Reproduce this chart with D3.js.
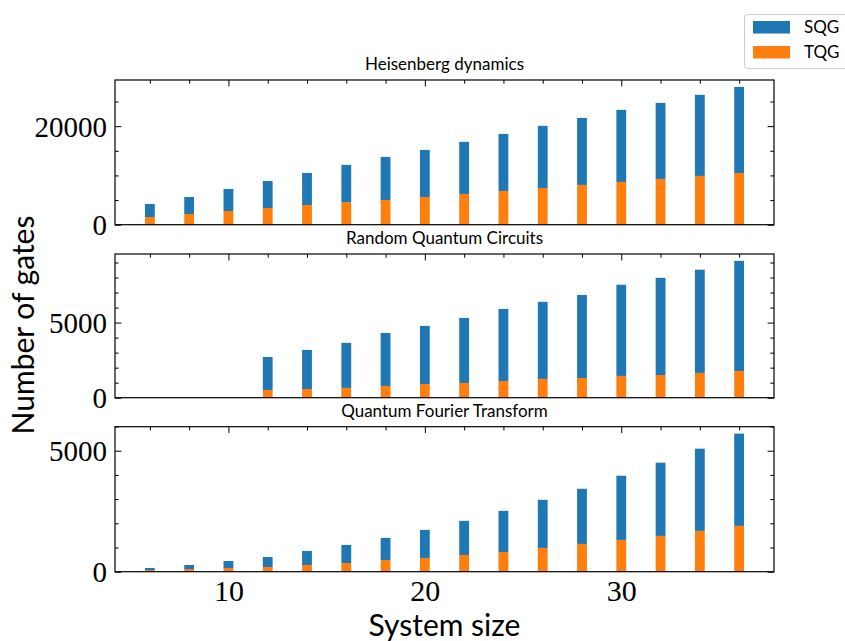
<!DOCTYPE html>
<html>
<head>
<meta charset="utf-8">
<script src="https://cdn.jsdelivr.net/npm/d3@7"></script>
<style>
  body { margin: 0; background: #fff; }
  svg { display: block; }
</style>
</head>
<body>
<svg id="chart" width="845" height="641"></svg>
<script>
// System sizes (number of qubits) shared by all three panels
const systemSizes = [6, 8, 10, 12, 14, 16, 18, 20, 22, 24, 26, 28, 30, 32, 34, 36];

// Heisenberg dynamics: single-qubit and two-qubit gate counts
const heisenbergSQG = [2640, 3450, 4470, 5490, 6500, 7580, 8740, 9550, 10570, 11580, 12600, 13610, 14630, 15440, 16460, 17470];
const heisenbergTQG = [1560, 2170, 2780, 3390, 4000, 4550, 5020, 5630, 6240, 6850, 7460, 8070, 8680, 9290, 9900, 10500];

// Random quantum circuits (no circuits below 12 qubits)
const rqcSQG = [0, 0, 0, 2200, 2600, 3000, 3530, 3870, 4330, 4800, 5130, 5530, 6070, 6470, 6870, 7330];
const rqcTQG = [0, 0, 0, 510, 580, 650, 780, 910, 980, 1110, 1250, 1310, 1450, 1510, 1650, 1780];

// Quantum Fourier transform
const qftSQG = [83, 166, 290, 414, 580, 746, 912, 1160, 1409, 1699, 1989, 2279, 2652, 3026, 3398, 3813];
const qftTQG = [70, 112, 153, 195, 278, 360, 485, 568, 692, 816, 982, 1148, 1314, 1479, 1687, 1894];

// Tick values
const xMajorTicks = [10, 20, 30];
const xMinorTicks = [6, 8, 12, 14, 16, 18, 22, 24, 26, 28, 32, 34, 36];
const heisenbergYMajor = [0, 20000];
const heisenbergYMinor = [5000, 10000, 15000, 25000];
const rqcYMajor = [0, 5000];
const rqcYMinor = [1000, 2000, 3000, 4000, 6000, 7000, 8000, 9000];
const qftYMajor = [0, 5000];
const qftYMinor = [1000, 2000, 3000, 4000, 6000];

const legendLabels = ["SQG", "TQG"];
const colors = { SQG: "#1f77b4", TQG: "#ff7f0e" };

const svg = d3.select("#chart");
const left = 115, right = 774;
const barWidth = 0.5;
const majorLen = 6.4, minorLen = 3.7;
const serif = "'Liberation Serif', 'DejaVu Serif', serif";
const sans = "Lato, 'Open Sans', 'DejaVu Sans', sans-serif";

const x = d3.scaleLinear().domain([4.225, 37.775]).range([left, right]);

const panels = [
  { title: "Heisenberg dynamics", sqg: heisenbergSQG, tqg: heisenbergTQG,
    yMajor: heisenbergYMajor, yMinor: heisenbergYMinor, top: 80, bottom: 224.7, titleY: 69.5 },
  { title: "Random Quantum Circuits", sqg: rqcSQG, tqg: rqcTQG,
    yMajor: rqcYMajor, yMinor: rqcYMinor, top: 254, bottom: 397.7, titleY: 244 },
  { title: "Quantum Fourier Transform", sqg: qftSQG, tqg: qftTQG,
    yMajor: qftYMajor, yMinor: qftYMinor, top: 426.7, bottom: 571.7, titleY: 416.5 }
];

panels.forEach((p, i) => {
  const rows = systemSizes.map((n, k) => ({ n, sqg: p.sqg[k], tqg: p.tqg[k] }));
  const ymax = d3.max(rows, d => d.sqg + d.tqg) * 1.05;
  const y = d3.scaleLinear().domain([0, ymax]).range([p.bottom, p.top]);
  const g = svg.append("g");
  const w = x(barWidth) - x(0);

  // Stacked bars: two-qubit gates at the base, single-qubit gates on top
  g.selectAll("rect.tqg").data(rows).join("rect")
    .attr("class", "tqg")
    .attr("x", d => x(d.n) - w / 2)
    .attr("width", w)
    .attr("y", d => y(d.tqg))
    .attr("height", d => y(0) - y(d.tqg))
    .attr("fill", colors.TQG);
  g.selectAll("rect.sqg").data(rows).join("rect")
    .attr("class", "sqg")
    .attr("x", d => x(d.n) - w / 2)
    .attr("width", w)
    .attr("y", d => y(d.tqg + d.sqg))
    .attr("height", d => y(d.tqg) - y(d.tqg + d.sqg))
    .attr("fill", colors.SQG);

  const isBottom = i === panels.length - 1;

  const addAxis = (axis, tr, showLabels) => {
    const a = g.append("g").attr("transform", tr).call(axis);
    a.select(".domain").remove();
    a.selectAll(".tick line").attr("stroke", "#000").attr("stroke-width", 1);
    if (!showLabels) a.selectAll(".tick text").remove();
    return a;
  };

  // Bottom: labels only (on the lowest panel); inward ticks on top, left and right
  if (isBottom) {
    const xb = addAxis(d3.axisBottom(x).tickValues(xMajorTicks).tickSize(0).tickPadding(8).tickFormat(d3.format("d")),
      `translate(0,${p.bottom})`, true);
    xb.selectAll(".tick line").remove();
    xb.selectAll(".tick text").attr("font-family", serif).attr("font-size", 30).attr("fill", "#000");
  }
  addAxis(d3.axisTop(x).tickValues(xMajorTicks).tickSizeInner(-majorLen), `translate(0,${p.top})`, false);
  addAxis(d3.axisTop(x).tickValues(xMinorTicks).tickSizeInner(-minorLen), `translate(0,${p.top})`, false);

  const yl = addAxis(d3.axisLeft(y).tickValues(p.yMajor).tickSizeInner(-majorLen).tickPadding(8).tickFormat(d3.format("d")),
    `translate(${left},0)`, true);
  yl.selectAll(".tick text").attr("font-family", serif).attr("font-size", 29).attr("fill", "#000").attr("dy", "0.34em");
  addAxis(d3.axisLeft(y).tickValues(p.yMinor).tickSizeInner(-minorLen), `translate(${left},0)`, false);
  addAxis(d3.axisRight(y).tickValues(p.yMajor).tickSizeInner(-majorLen), `translate(${right},0)`, false);
  addAxis(d3.axisRight(y).tickValues(p.yMinor).tickSizeInner(-minorLen), `translate(${right},0)`, false);

  // Axes frame
  g.append("rect")
    .attr("x", left).attr("y", p.top)
    .attr("width", right - left).attr("height", p.bottom - p.top)
    .attr("fill", "none").attr("stroke", "#000").attr("stroke-width", 1.2);

  // Panel title
  svg.append("text")
    .attr("x", (left + right) / 2).attr("y", p.titleY)
    .attr("text-anchor", "middle")
    .attr("font-family", sans).attr("font-size", 17)
    .text(p.title);
});

// Axis labels
svg.append("text")
  .attr("x", (left + right) / 2).attr("y", 636)
  .attr("text-anchor", "middle")
  .attr("font-family", sans).attr("font-size", 30)
  .text("System size");
svg.append("text")
  .attr("transform", "translate(34,325) rotate(-90)")
  .attr("text-anchor", "middle")
  .attr("font-family", sans).attr("font-size", 30)
  .text("Number of gates");

// Legend
const legend = svg.append("g");
legend.append("rect")
  .attr("x", 744.5).attr("y", 14.5).attr("width", 110).attr("height", 54)
  .attr("rx", 3).attr("fill", "#fff").attr("fill-opacity", 0.8)
  .attr("stroke", "#ccc").attr("stroke-width", 1);
legendLabels.forEach((lab, k) => {
  legend.append("rect")
    .attr("x", 753).attr("y", 21 + k * 25).attr("width", 37).attr("height", 12.5)
    .attr("fill", colors[lab]);
  legend.append("text")
    .attr("x", 804).attr("y", 33 + k * 25)
    .attr("font-family", sans).attr("font-size", 17)
    .text(lab);
});
</script>
</body>
</html>
